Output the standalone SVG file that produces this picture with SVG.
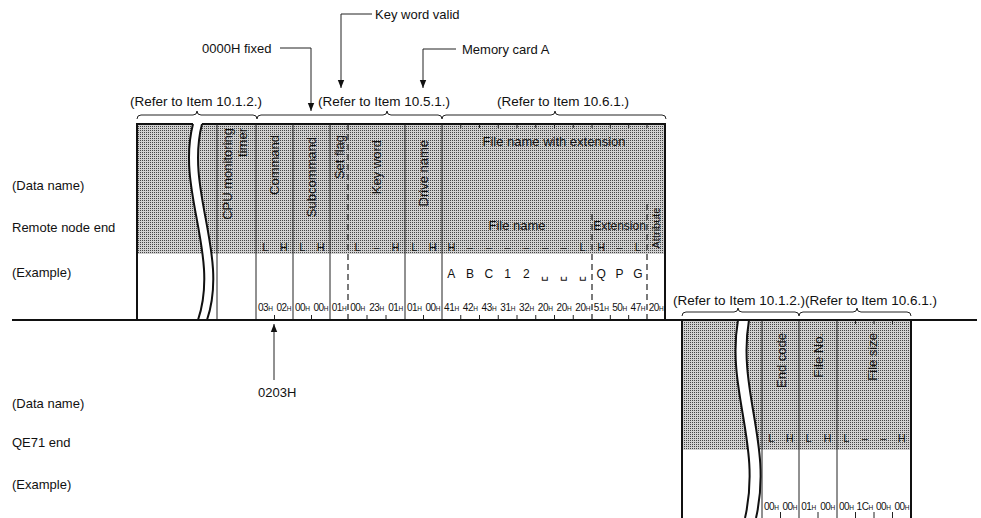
<svg xmlns="http://www.w3.org/2000/svg" width="981" height="518" viewBox="0 0 981 518">
<defs>
<pattern id="dots" width="2" height="2" patternUnits="userSpaceOnUse"><rect width="2" height="2" fill="#d0d0d0"/><rect width="1" height="1" fill="#444"/></pattern>
<marker id="ah" viewBox="0 0 10 10" refX="10" refY="5" markerWidth="8" markerHeight="8" orient="auto" markerUnits="userSpaceOnUse"><path d="M0,1 L10,5 L0,9 Z" fill="#111"/></marker>
</defs>
<style>
text{font-family:"Liberation Sans",Arial,sans-serif;fill:#111}
.lbl{font-size:13px}
.ref{font-size:13.5px}
.rot{font-size:13px;text-anchor:end}
.lh{font-size:11px;text-anchor:middle}
.ex{font-size:12px;text-anchor:middle}
.b{font-size:10px;text-anchor:middle;letter-spacing:-0.4px}
.h{font-size:6.5px}
.thin{stroke:#222;stroke-width:1;fill:none}
.thick{stroke:#111;stroke-width:2;fill:none}
.dash{stroke:#222;stroke-width:1.2;fill:none;stroke-dasharray:6 4}
.brace{stroke:#222;stroke-width:1;fill:none}
.tick{stroke:#222;stroke-width:1}
</style>

<g id="labels-left">
<text class="lbl" x="12" y="190">(Data name)</text>
<text class="lbl" x="12" y="232">Remote node end</text>
<text class="lbl" x="12" y="277">(Example)</text>
<text class="lbl" x="12" y="408">(Data name)</text>
<text class="lbl" x="12" y="447">QE71 end</text>
<text class="lbl" x="12" y="489">(Example)</text>
</g>

<g id="remote-frame">
<rect x="137" y="124" width="528" height="130" fill="url(#dots)"/>
<rect x="137" y="254" width="528" height="66" fill="#fff"/>
<path d="M193,124 C176,190 220,255 198,320 L207,320 C229,255 185,190 202,124 Z" fill="#fff"/>
<path class="thick" d="M193,124 C176,190 220,255 198,320"/>
<path class="thick" d="M202,124 C185,190 229,255 207,320"/>
<path class="thick" d="M137,320 L137,124 L193,124"/>
<path class="thick" d="M202,124 L665,124 L665,320"/>
<path class="thin" d="M217,124V320 M256,124V320 M293,124V320 M330,124V320 M405,124V320 M442,124V320"/>
<path class="dash" d="M348,124V320"/>
<path class="dash" d="M592,214V320 M647,204V320"/>
<path class="tick" d="M460.75,124v4 M479.5,124v4 M498.25,124v4 M517,124v4 M535.75,124v4 M554.5,124v4 M573.25,124v4 M592,124v4 M610.33,124v4 M628.67,124v4 M647,124v4"/>
<path class="tick" d="M274.5,315v5 M311.5,315v5 M367,315v5 M386,315v5 M423.5,315v5 M460.75,315v5 M479.5,315v5 M498.25,315v5 M517,315v5 M535.75,315v5 M554.5,315v5 M573.25,315v5 M610.33,315v5 M628.67,315v5"/>
<text class="rot" transform="translate(232,128) rotate(-90)">CPU monitoring</text>
<text class="rot" transform="translate(247,128) rotate(-90)">timer</text>
<text class="rot" transform="translate(279,135) rotate(-90)">Command</text>
<text class="rot" transform="translate(316,137) rotate(-90)">Subcommand</text>
<text class="rot" transform="translate(344,135) rotate(-90)">Set flag</text>
<text class="rot" transform="translate(381,140) rotate(-90)">Key word</text>
<text class="rot" transform="translate(428,140) rotate(-90)">Drive name</text>
<text style="font-size:11px;text-anchor:middle" transform="translate(660,228) rotate(-90)">Attribute</text>
<text class="lbl" x="554" y="146" text-anchor="middle">File name with extension</text>
<text class="lbl" x="517" y="230" text-anchor="middle">File name</text>
<text class="lbl" x="619.5" y="230" text-anchor="middle" style="font-size:12px">Extension</text>
<text class="lh" y="251"><tspan x="265.25">L</tspan><tspan x="283.75">H</tspan><tspan x="302.25">L</tspan><tspan x="320.75">H</tspan><tspan x="357.5">L</tspan><tspan x="376.5">–</tspan><tspan x="395.5">H</tspan><tspan x="414.25">L</tspan><tspan x="432.75">H</tspan><tspan x="451.375">H</tspan><tspan x="470.125">–</tspan><tspan x="488.875">–</tspan><tspan x="507.625">–</tspan><tspan x="526.375">–</tspan><tspan x="545.125">–</tspan><tspan x="563.875">–</tspan><tspan x="582.625">L</tspan><tspan x="601.17">H</tspan><tspan x="619.5">–</tspan><tspan x="637.83">L</tspan></text>
<text class="ex" y="278"><tspan x="451.375">A</tspan><tspan x="470.125">B</tspan><tspan x="488.875">C</tspan><tspan x="507.625">1</tspan><tspan x="526.375">2</tspan><tspan x="545.125">␣</tspan><tspan x="563.875">␣</tspan><tspan x="582.625">␣</tspan><tspan x="601.17">Q</tspan><tspan x="619.5">P</tspan><tspan x="637.83">G</tspan></text>
<text class="b" x="265.25" y="311">03<tspan class="h">H</tspan></text>
<text class="b" x="283.75" y="311">02<tspan class="h">H</tspan></text>
<text class="b" x="302.25" y="311">00<tspan class="h">H</tspan></text>
<text class="b" x="320.75" y="311">00<tspan class="h">H</tspan></text>
<text class="b" x="339" y="311">01<tspan class="h">H</tspan></text>
<text class="b" x="357.5" y="311">00<tspan class="h">H</tspan></text>
<text class="b" x="376.5" y="311">23<tspan class="h">H</tspan></text>
<text class="b" x="395.5" y="311">01<tspan class="h">H</tspan></text>
<text class="b" x="414.25" y="311">01<tspan class="h">H</tspan></text>
<text class="b" x="432.75" y="311">00<tspan class="h">H</tspan></text>
<text class="b" x="451.375" y="311">41<tspan class="h">H</tspan></text>
<text class="b" x="470.125" y="311">42<tspan class="h">H</tspan></text>
<text class="b" x="488.875" y="311">43<tspan class="h">H</tspan></text>
<text class="b" x="507.625" y="311">31<tspan class="h">H</tspan></text>
<text class="b" x="526.375" y="311">32<tspan class="h">H</tspan></text>
<text class="b" x="545.125" y="311">20<tspan class="h">H</tspan></text>
<text class="b" x="563.875" y="311">20<tspan class="h">H</tspan></text>
<text class="b" x="582.625" y="311">20<tspan class="h">H</tspan></text>
<text class="b" x="601.17" y="311">51<tspan class="h">H</tspan></text>
<text class="b" x="619.5" y="311">50<tspan class="h">H</tspan></text>
<text class="b" x="637.83" y="311">47<tspan class="h">H</tspan></text>
<text class="b" x="656" y="311">20<tspan class="h">H</tspan></text>
</g>

<g id="qe71-frame">
<rect x="682" y="320" width="229" height="130" fill="url(#dots)"/>
<rect x="682" y="450" width="229" height="68" fill="#fff"/>
<path d="M738,320 C726,390 762,445 745,518 L756,518 C773,445 737,390 749,320 Z" fill="#fff"/>
<path class="thick" d="M738,320 C726,390 762,445 745,518"/>
<path class="thick" d="M749,320 C737,390 773,445 756,518"/>
<path class="thick" d="M682,320V518 M911,320V518"/>
<path class="thin" d="M762,320V518 M799,320V518 M837,320V518"/>
<path class="tick" d="M855.5,320v4 M874,320v4 M892.5,320v4"/>
<path class="tick" d="M780.5,512v6 M818,512v6 M855.5,512v6 M874,512v6 M892.5,512v6"/>
<text class="rot" transform="translate(786,333) rotate(-90)">End code</text>
<text class="rot" transform="translate(823,333) rotate(-90)">File No.</text>
<text class="rot" transform="translate(877,333) rotate(-90)">File size</text>
<text class="lh" y="442"><tspan x="771.25">L</tspan><tspan x="789.75">H</tspan><tspan x="808.5">L</tspan><tspan x="827.5">H</tspan><tspan x="846.25">L</tspan><tspan x="864.75">–</tspan><tspan x="883.25">–</tspan><tspan x="901.75">H</tspan></text>
<text class="b" x="771.25" y="510">00<tspan class="h">H</tspan></text>
<text class="b" x="789.75" y="510">00<tspan class="h">H</tspan></text>
<text class="b" x="808.5" y="510">01<tspan class="h">H</tspan></text>
<text class="b" x="827.5" y="510">00<tspan class="h">H</tspan></text>
<text class="b" x="846.25" y="510">00<tspan class="h">H</tspan></text>
<text class="b" x="864.75" y="510">1C<tspan class="h">H</tspan></text>
<text class="b" x="883.25" y="510">00<tspan class="h">H</tspan></text>
<text class="b" x="901.75" y="510">00<tspan class="h">H</tspan></text>
</g>

<g id="references">
<text class="ref" x="130" y="106">(Refer to Item 10.1.2.)</text>
<text class="ref" x="318" y="106">(Refer to Item 10.5.1.)</text>
<text class="ref" x="497" y="106">(Refer to Item 10.6.1.)</text>
<text class="ref" x="673" y="305">(Refer to Item 10.1.2.)(Refer to Item 10.6.1.)</text>
<path class="brace" d="M137,119 Q137,115 141,115 L193,115 Q197,115 197,111 Q197,115 201,115 L253,115 Q257,115 257,119"/>
<path class="brace" d="M257,119 Q257,115 261,115 L383,115 Q387,115 387,111 Q387,115 391,115 L438,115 Q442,115 442,119"/>
<path class="brace" d="M442,119 Q442,115 446,115 L551,115 Q555,115 555,111 Q555,115 559,115 L662,115 Q666,115 666,119"/>
<path class="brace" d="M682,316 Q682,312 686,312 L734,312 Q738,312 738,308 Q738,312 742,312 L795,312 Q799,312 799,316"/>
<path class="brace" d="M799,316 Q799,312 803,312 L853,312 Q857,312 857,308 Q857,312 861,312 L907,312 Q911,312 911,316"/>
</g>

<g id="annotations">
<text class="lbl" x="375" y="19">Key word valid</text>
<text class="lbl" x="202" y="53">0000H fixed</text>
<text class="lbl" x="462" y="54">Memory card A</text>
<text class="lbl" x="258" y="397">0203H</text>
</g>

<g id="connectors">
<path class="thick" style="stroke-width:2" d="M12,320 H977"/>
<path class="thin" d="M372,14 H341 V88" marker-end="url(#ah)"/>
<path class="thin" d="M280,48 H311 V111" marker-end="url(#ah)"/>
<path class="thin" d="M456,49 H423 V88" marker-end="url(#ah)"/>
<path class="thin" d="M274,380 V324" marker-end="url(#ah)"/>
</g>
</svg>
